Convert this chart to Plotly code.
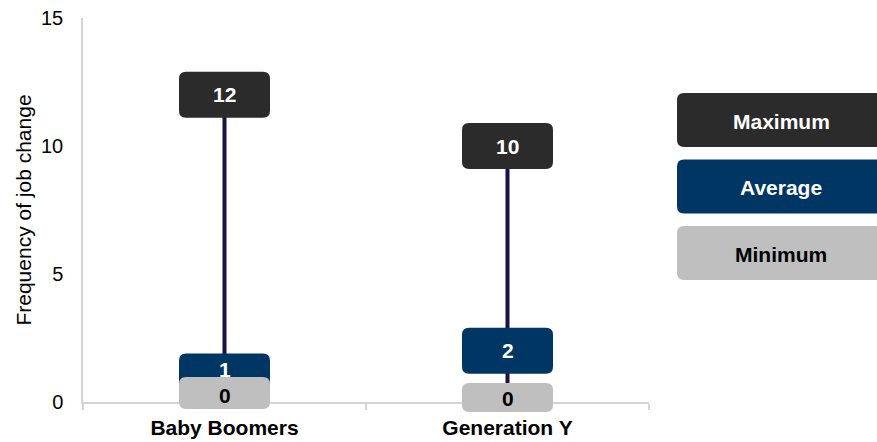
import plotly.graph_objects as go

# ---- data ----
categories = ["Baby Boomers", "Generation Y"]
minimum = [0, 0]
average = [1, 2]
maximum = [12, 10]
legend_labels = ["Maximum", "Average", "Minimum"]
y_ticks = [0, 5, 10, 15]
y_max = 15

# ---- styles ----
FONT = "Liberation Sans, Arial, sans-serif"
C_MAX = "#2b2b2b"
C_AVG = "#003663"
C_MIN = "#bfbfbf"
C_LINE = "#1e1045"
AXIS_C = "#d4d4d4"

BOX_W = 91
# per-series box (height, vertical pixel shift of box, text shift) per category
style_max = [(46, 0, 0), (46, 0, 0)]
style_avg = [(46, 0, 7), (46, 0, 0)]
style_min = [(32, 9, 7), (29, 4.5, 4)]


def rrect(w, h, dy, r=7):
    x0, x1 = -w / 2, w / 2
    y0, y1 = dy - h / 2, dy + h / 2
    return (f"M {x0+r},{y0} L {x1-r},{y0} Q {x1},{y0} {x1},{y0+r} "
            f"L {x1},{y1-r} Q {x1},{y1} {x1-r},{y1} L {x0+r},{y1} "
            f"Q {x0},{y1} {x0},{y1-r} L {x0},{y0+r} Q {x0},{y0} {x0+r},{y0} Z")


def rrect_lr(x0, x1, h, r=7):
    y0, y1 = -h / 2, h / 2
    return (f"M {x0+r},{y0} L {x1-r},{y0} Q {x1},{y0} {x1},{y0+r} "
            f"L {x1},{y1-r} Q {x1},{y1} {x1-r},{y1} L {x0+r},{y1} "
            f"Q {x0},{y1} {x0},{y1-r} L {x0},{y0+r} Q {x0},{y0} {x0+r},{y0} Z")


fig = go.Figure()

# high-low lines
lx, ly = [], []
for c, lo, hi in zip(categories, minimum, maximum):
    lx += [c, c, None]
    ly += [lo, hi, None]
fig.add_trace(go.Scatter(x=lx, y=ly, mode="lines",
                         line=dict(color=C_LINE, width=4),
                         hoverinfo="skip", showlegend=False))

shapes = []
annotations = []
n = len(categories)
for series, color, tcolor, styles in [(maximum, C_MAX, "white", style_max),
                                      (average, C_AVG, "white", style_avg),
                                      (minimum, C_MIN, "black", style_min)]:
    for i, v in enumerate(series):
        h, dy, ty = styles[i]
        shapes.append(dict(type="path", xref="paper", yref="paper",
                           xsizemode="pixel", ysizemode="pixel",
                           xanchor=(i + 0.5) / n, yanchor=v / y_max,
                           path=rrect(BOX_W, h, dy),
                           fillcolor=color, line=dict(width=0), layer="above"))
        annotations.append(dict(x=categories[i], y=v, xref="x", yref="y",
                                text=str(v), showarrow=False, yshift=ty,
                                font=dict(family=FONT, size=21, color=tcolor, weight="bold")))

# legend boxes
leg_colors = [C_MAX, C_AVG, C_MIN]
leg_text = ["white", "white", "black"]
for k, (lab, col, tc) in enumerate(zip(legend_labels, leg_colors, leg_text)):
    yc = 1 - (120 + k * 66.5 - 18) / 384
    shapes.append(dict(type="path", xref="paper", yref="paper",
                       xsizemode="pixel", ysizemode="pixel",
                       xanchor=1.0495, yanchor=yc,
                       path=rrect_lr(0, 240, 54),
                       fillcolor=col, line=dict(width=0), layer="above"))
    annotations.append(dict(x=1.0495, y=yc, xref="paper", yref="paper",
                            xanchor="center", yanchor="middle", xshift=104, yshift=-1,
                            text=lab, showarrow=False,
                            font=dict(family=FONT, size=21, color=tc, weight="bold")))

fig.update_layout(
    template="none",
    width=877, height=442,
    margin=dict(l=83, r=228, t=18, b=40, pad=0),
    plot_bgcolor="white", paper_bgcolor="white",
    showlegend=False,
    shapes=shapes, annotations=annotations,
    font=dict(family=FONT, color="black"),
    xaxis=dict(type="category", categoryorder="array", categoryarray=categories,
               range=[-0.5, 1.5], showline=True, linecolor=AXIS_C, linewidth=1.5,
               showgrid=False, zeroline=False, ticks="outside", tickson="boundaries",
               ticklen=6, tickcolor=AXIS_C, tickwidth=1.5, automargin=False,
               ticklabelstandoff=6,
               tickfont=dict(family=FONT, size=21, color="black", weight="bold"),
               fixedrange=True),
    yaxis=dict(range=[0, y_max], tickvals=y_ticks, showline=True, linecolor=AXIS_C,
               linewidth=1.5, showgrid=False, zeroline=False, ticks="",
               ticklabelstandoff=14, automargin=False,
               tickfont=dict(family=FONT, size=20, color="black"),
               title=dict(text="Frequency of job change", standoff=4,
                          font=dict(family=FONT, size=21, color="black")),
               fixedrange=True),
)

fig.write_html("out.html")
